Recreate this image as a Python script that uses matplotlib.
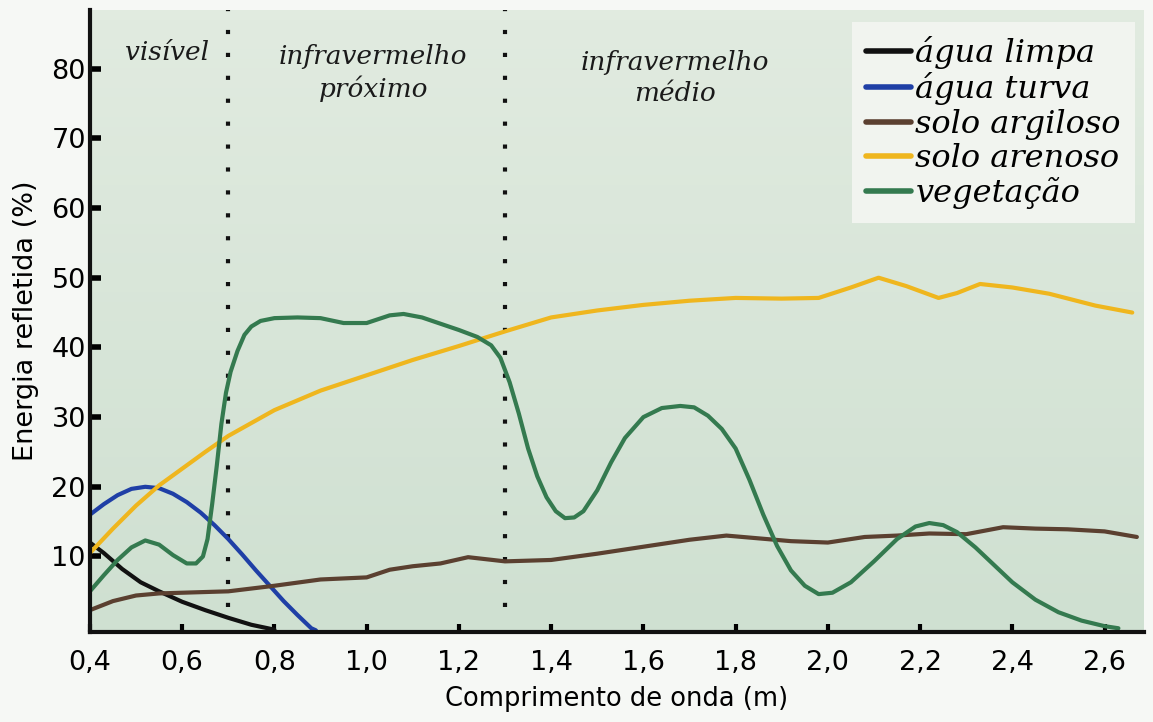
import numpy as np
import matplotlib.pyplot as plt
from matplotlib.colors import LinearSegmentedColormap

# comprimento de onda (um) e energia refletida (%)
x_agua_limpa = [0.40, 0.43, 0.47, 0.51, 0.55, 0.60, 0.65, 0.70, 0.75, 0.80]
y_agua_limpa = [12.0, 10.5, 8.2, 6.3, 5.0, 3.5, 2.3, 1.2, 0.2, -0.5]

x_agua_turva = [0.40, 0.43, 0.46, 0.49, 0.52, 0.55, 0.58, 0.61, 0.64, 0.67, 0.70,
                0.73, 0.76, 0.79, 0.82, 0.85, 0.88, 0.89]
y_agua_turva = [16.0, 17.5, 18.8, 19.7, 20.0, 19.8, 19.0, 17.8, 16.3, 14.5, 12.5,
                10.3, 8.0, 5.8, 3.6, 1.6, -0.3, -0.6]

x_solo_argiloso = [0.40, 0.45, 0.50, 0.55, 0.60, 0.70, 0.80, 0.90, 1.00, 1.05, 1.10,
                   1.16, 1.22, 1.26, 1.30, 1.40, 1.50, 1.60, 1.70, 1.78, 1.85, 1.92,
                   2.00, 2.08, 2.15, 2.22, 2.30, 2.38, 2.45, 2.52, 2.60, 2.67]
y_solo_argiloso = [2.3, 3.6, 4.4, 4.7, 4.8, 5.0, 5.8, 6.7, 7.0, 8.1, 8.6,
                   9.0, 9.9, 9.6, 9.3, 9.5, 10.4, 11.4, 12.4, 13.0, 12.6, 12.2,
                   12.0, 12.8, 13.0, 13.3, 13.2, 14.2, 14.0, 13.9, 13.6, 12.8]

x_solo_arenoso = [0.40, 0.45, 0.50, 0.55, 0.60, 0.65, 0.70, 0.80, 0.90, 1.00, 1.10,
                  1.20, 1.30, 1.40, 1.50, 1.60, 1.70, 1.80, 1.90, 1.98, 2.05, 2.11,
                  2.17, 2.24, 2.28, 2.33, 2.40, 2.48, 2.58, 2.66]
y_solo_arenoso = [10.5, 14.0, 17.3, 20.2, 22.6, 25.0, 27.3, 31.0, 33.8, 36.0, 38.2,
                  40.2, 42.3, 44.3, 45.3, 46.1, 46.7, 47.1, 47.0, 47.1, 48.6, 50.0,
                  48.8, 47.1, 47.8, 49.1, 48.6, 47.7, 46.0, 45.0]

x_vegetacao = [0.40, 0.43, 0.46, 0.49, 0.52, 0.55, 0.58, 0.61, 0.63, 0.645, 0.655,
               0.665, 0.675, 0.685, 0.695, 0.705, 0.72, 0.735, 0.75, 0.77, 0.80,
               0.85, 0.90, 0.95, 1.00, 1.05, 1.08, 1.12, 1.16, 1.20, 1.24, 1.27,
               1.29, 1.31, 1.33, 1.35, 1.37, 1.39, 1.41, 1.43, 1.45, 1.47, 1.50,
               1.53, 1.56, 1.60, 1.64, 1.68, 1.71, 1.74, 1.77, 1.80, 1.83, 1.86,
               1.89, 1.92, 1.95, 1.98, 2.01, 2.05, 2.10, 2.15, 2.19, 2.22, 2.25,
               2.28, 2.32, 2.36, 2.40, 2.45, 2.50, 2.55, 2.60, 2.63]
y_vegetacao = [5.0, 7.3, 9.5, 11.3, 12.3, 11.7, 10.2, 9.0, 9.0, 10.0, 12.5,
               17.5, 23.0, 29.0, 33.5, 36.5, 39.5, 41.8, 43.0, 43.8, 44.2,
               44.3, 44.2, 43.5, 43.5, 44.6, 44.8, 44.3, 43.4, 42.5, 41.5, 40.3,
               38.5, 35.0, 30.5, 25.5, 21.5, 18.5, 16.5, 15.5, 15.6, 16.5, 19.5,
               23.5, 27.0, 30.0, 31.3, 31.6, 31.4, 30.2, 28.3, 25.5, 21.0, 16.0,
               11.5, 8.0, 5.8, 4.6, 4.8, 6.3, 9.3, 12.5, 14.3, 14.8, 14.5,
               13.5, 11.3, 8.8, 6.3, 3.8, 2.0, 0.8, 0.0, -0.3]

limites_regioes = [0.7, 1.3]
x_ticks = [0.4, 0.6, 0.8, 1.0, 1.2, 1.4, 1.6, 1.8, 2.0, 2.2, 2.4, 2.6]
y_ticks = [10, 20, 30, 40, 50, 60, 70, 80]

fig = plt.figure(figsize=(11.53, 7.22), dpi=100, facecolor='#f6f8f5')
ax = fig.add_axes([0.078, 0.125, 0.914, 0.861])

# fundo levemente degradê, como no papel escaneado
fundo = np.linspace(0, 1, 64).reshape(-1, 1)
cmap_fundo = LinearSegmentedColormap.from_list('fundo', ['#cfe0d1', '#e1ebe0'])
ax.imshow(fundo, cmap=cmap_fundo, aspect='auto', extent=(0, 1, 0, 1),
          transform=ax.transAxes, origin='lower', zorder=0)

series = [
    (x_agua_limpa, y_agua_limpa, '#111111', 'água limpa'),
    (x_agua_turva, y_agua_turva, '#1f3fa6', 'água turva'),
    (x_solo_argiloso, y_solo_argiloso, '#5b4030', 'solo argiloso'),
    (x_solo_arenoso, y_solo_arenoso, '#efb61e', 'solo arenoso'),
    (x_vegetacao, y_vegetacao, '#347a4f', 'vegetação'),
]
for xs, ys, cor, nome in series:
    ax.plot(xs, ys, color=cor, lw=3.0, label=nome, solid_capstyle='round',
            solid_joinstyle='round', zorder=3)

for xr in limites_regioes:
    ax.axvline(xr, ymin=0.04, ymax=1, color='#111111', lw=3, ls=(0, (1, 4.5)), zorder=2)

fonte_serif = dict(family='DejaVu Serif', style='italic', color='#1a1a1a')
ax.text(0.567, 82.3, 'visível', ha='center', va='center', fontsize=19, **fonte_serif)
ax.text(1.014, 79.4, 'infravermelho\npróximo', ha='center', va='center',
        fontsize=19, linespacing=1.3, **fonte_serif)
ax.text(1.668, 78.6, 'infravermelho\nmédio', ha='center', va='center',
        fontsize=19, linespacing=1.3, **fonte_serif)

ax.set_xlim(0.4, 2.685)
ax.set_ylim(-0.8, 88.4)
ax.set_xticks(x_ticks)
ax.set_xticklabels([f'{v:.1f}'.replace('.', ',') for v in x_ticks])
ax.set_yticks(y_ticks)

for lado in ['top', 'right']:
    ax.spines[lado].set_visible(False)
for lado in ['left', 'bottom']:
    ax.spines[lado].set_linewidth(3)
    ax.spines[lado].set_color('#111111')
    ax.spines[lado].set_zorder(4)

ax.tick_params(axis='y', direction='in', length=8, width=4, labelsize=19.5, pad=3)
ax.tick_params(axis='x', direction='in', length=6, width=3, labelsize=19.5, pad=13)

ax.set_xlabel('Comprimento de onda (m)', fontsize=18.5, labelpad=7)
ax.set_ylabel('Energia refletida (%)', fontsize=19.5, labelpad=9)

leg = ax.legend(loc='upper right', bbox_to_anchor=(0.992, 0.981), borderaxespad=0,
                prop=dict(family='DejaVu Serif', style='italic', size=23),
                handlelength=1.4, handletextpad=0.15, labelspacing=0.1,
                borderpad=0.45, frameon=True, fancybox=False)
leg.get_frame().set_facecolor('#f1f4ef')
leg.get_frame().set_edgecolor('none')
leg.get_frame().set_alpha(1)
leg.set_zorder(5)
for linha in leg.get_lines():
    linha.set_linewidth(4)

fig.savefig('out.png', dpi=100, facecolor=fig.get_facecolor())
